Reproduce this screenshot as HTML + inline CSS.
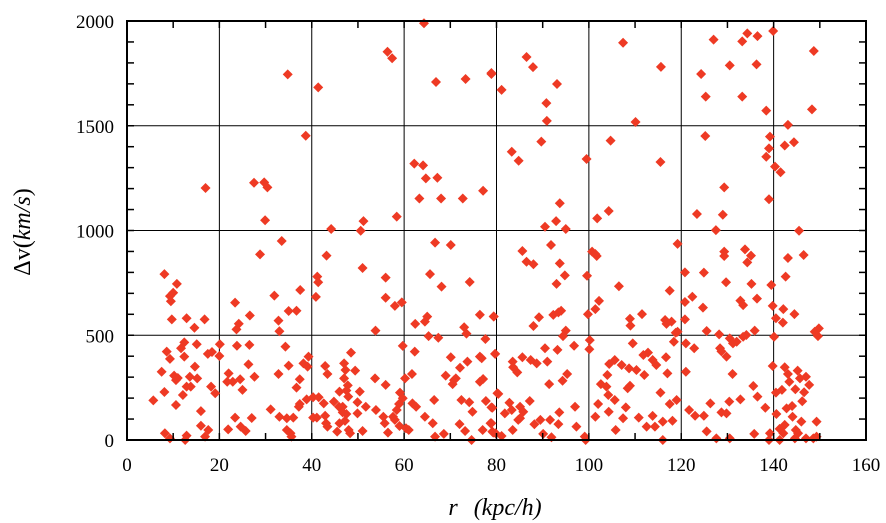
<!DOCTYPE html>
<html><head><meta charset="utf-8"><style>
html,body{margin:0;padding:0;background:#fff;}
svg{display:block;font-family:"Liberation Serif",serif;}
</style></head><body>
<svg id="chart" width="886" height="523" xmlns="http://www.w3.org/2000/svg">
<g id="grid"></g>
<g id="points"></g>
<g id="axes"></g>
<text x="495" y="515" font-size="24" text-anchor="middle" font-style="italic">r<tspan dx="16">(kpc/h)</tspan></text>
<text transform="translate(30,232) rotate(-90)" font-size="24" text-anchor="middle">Δv(<tspan font-style="italic">km/s</tspan>)</text>
</svg>
<script>
const xTicks=[0,20,40,60,80,100,120,140,160];
const yTicks=[0,500,1000,1500,2000];
const xs=[64.3,56.4,57.4,34.8,41.4,66.9,73.3,78.9,38.7,62.2,64.1,64.7,67.2,63.3,68,72.7,77.1,17,27.5,29.7,30.4,29.9,44.2,50.6,51.2,58.4,
86.5,87.9,78.9,81.1,93.1,90.8,90.9,107.4,115.6,110.1,127,134.3,136.5,139.9,133.2,124.3,130.5,136.3,125.3,133.2,138.4,148.3,148.7,143.1,139.2,139,138.4,140.3,141.5,142.4,144.4,125.2,129.3,139,123.4,129,127.5,145.5,89.7,83.3,84.8,99.5,104.7,115.5,93.7,92.9,90.5,95,101.8,104.3,
33.5,28.8,8.1,10.8,10,9.3,9.5,9.7,12.9,14.6,16.8,23.4,24.2,23.7,26.6,31.9,32.8,33,35,36.7,37.5,43.2,51,41.2,41.4,40.9,56,56,58,59.5,53.8,66.7,70.1,65.6,68.1,74.2,62.4,64.5,65,65.3,67.4,73,73.5,76.4,79.4,77.6,
8.6,9.3,12.4,11.7,15.1,12.4,20.1,20,17.5,18.4,7.5,10.2,10.6,11,14.7,13.6,15.2,12.9,13.8,12.1,18.2,19.1,8.1,5.7,10.6,16,16,17.6,16.9,8.2,9.3,12.6,12.9,
23.8,26.5,26.3,22,21.7,22.9,24.5,27.6,25,23.4,27,21.9,24.6,25.7,32.8,34.3,35,38.2,39.3,39.1,37.4,36.7,31.1,33,34.6,36,37.2,37.4,38.9,34.6,35.4,35.6,
40.3,41.5,42.6,40.3,41.1,42.9,43.1,43.4,42.9,43.4,45.5,47,47.3,48.5,49.4,47,47.8,47.5,46,47.9,50.4,49.9,51.7,44.8,45.9,46.7,46.7,47.5,47.2,46,48,48.3,49.9,51,53.7,53.9,56,55.5,55.8,56.5,59.1,58.9,59.7,58.4,57.6,58,59,60.4,61,60.2,59.7,
62.3,61.7,61.8,62.6,64.5,66.2,66.7,68.6,66.5,69,70.1,70.5,70.8,71.2,72.1,73.7,72.4,74.1,74.8,74.6,72,73.2,76.4,76.8,76.4,77.1,77.7,79.1,77,78.7,79.1,79.7,80.2,79.8,
85.6,91.8,86.5,88,93.7,94.8,93,99.6,92.3,93.4,94,89.2,88,95,94.4,79.4,99.8,100.7,101.7,101.4,106.5,102.2,101.4,111.5,108.9,109,116.5,116.8,117.9,117.5,119.2,119.2,100.2,100.1,
120.8,124.9,129.3,129.3,133.8,135.1,134.3,129.7,135.2,139.5,136.4,120.8,122.4,124.7,132.8,133.4,120.8,139.8,142.1,140.5,142,144.5,125.5,128.2,130.5,132,133.4,134.1,135.9,131.2,140.1,143.1,146.5,142.6,148.9,149.8,149.6,
79.7,83.5,83.6,84.5,85.6,87.4,88.7,91,90.5,93.2,96.8,95.3,94.3,91.4,80.4,78.9,78.9,79.3,81.1,81.8,82.8,83.3,85.1,85.8,84.7,87.2,85.1,83.5,88.2,89.5,90.1,91.6,91.9,93.4,93.6,97,97.3,99.1,99.3,
104.4,105.6,107.1,104,102.6,103.8,104.2,105.6,102,101.4,104.3,105.8,108,107.4,108.7,110.3,112,109.5,111.8,112.8,113.8,114.6,116.7,117,118.4,118.8,108.9,108.4,110.8,112.5,113.8,114.3,115.5,116,117.5,119,118.1,116,
121,122.8,121,121.7,123,124.9,126.3,125.5,128.4,128.7,129.8,131.1,128.7,129.8,130.4,132.8,135.6,136.5,138.2,135.8,139.2,139.8,127.6,130.5,139,141.3,
140.5,141.8,142.4,143.1,143.4,145.2,145.7,147,147.7,144.7,146.6,146.2,142.8,144,140.6,144.1,146,149.3,141.3,142.4,142.1,144.8,145.3,147,148.6,149.3,144.6];
const ys=[1989,1853,1822,1745,1683,1709,1723,1747,1452,1319,1311,1249,1252,1153,1153,1153,1190,1203,1228,1230,1206,1049,1007,999,1045,1066,
1828,1780,1752,1671,1699,1608,1523,1896,1781,1518,1911,1941,1928,1952,1903,1747,1788,1793,1639,1639,1572,1578,1857,1504,1448,1392,1352,1305,1278,1406,1421,1451,1206,1149,1079,1075,1002,999,1424,1376,1333,1341,1429,1327,1130,1045,1018,1007,1058,1093,
950,886,792,745,703,687,662,576,581,536,576,656,555,528,594,689,570,519,616,617,716,880,821,780,753,683,775,679,640,657,522,942,931,792,732,754,554,565,589,496,488,538,508,598,590,482,
422,387,466,438,457,398,457,401,411,420,326,307,286,296,350,302,294,255,255,215,255,223,229,189,167,138,68,48,16,32,8,0,21,
450,454,361,318,278,278,290,302,239,107,105,51,64,43,315,446,355,366,398,350,290,250,146,111,104,107,159,172,194,48,32,16,
204,204,175,107,107,116,80,64,353,315,40,366,334,417,331,294,261,236,231,207,231,180,159,183,159,159,132,124,91,80,48,32,127,43,294,143,263,111,80,35,226,172,199,143,111,96,67,56,48,294,449,
422,315,175,159,111,80,16,29,191,307,395,267,286,294,345,374,191,180,135,0,76,43,398,390,278,291,186,154,48,80,40,411,223,32,
902,931,851,839,843,786,745,784,597,609,617,586,544,522,496,589,600,899,878,888,734,664,625,601,579,546,573,554,565,713,936,517,477,433,
800,799,899,878,910,880,848,753,745,740,675,659,684,632,665,644,576,640,625,581,560,601,520,504,485,469,493,501,522,461,493,869,883,780,517,533,496,
411,374,347,323,395,382,366,374,438,430,450,315,283,267,220,156,80,35,19,127,178,143,159,135,96,186,104,48,75,96,29,96,13,76,132,159,64,16,0,
363,382,358,310,267,255,215,191,172,111,135,48,156,104,342,334,310,461,406,417,382,358,395,318,469,512,259,247,107,64,115,64,226,88,172,191,92,0,
461,438,326,143,116,116,175,41,438,423,398,315,132,127,183,194,258,207,154,29,32,353,8,8,0,0,
226,239,347,315,278,331,294,302,263,242,228,185,151,162,124,111,88,88,53,72,32,48,32,8,8,16,8];
const X0=127,X1=866,Y0=440,Y1=21;
function sx(v){return X0+(v-0)/(160-0)*(X1-X0);}
function sy(v){return Y0-(v-0)/(2000-0)*(Y0-Y1);}
const NS='http://www.w3.org/2000/svg';
function mk(tag,attrs,parent){const e=document.createElementNS(NS,tag);for(const k in attrs)e.setAttribute(k,attrs[k]);parent.appendChild(e);return e;}
const grid=document.getElementById('grid'),axes=document.getElementById('axes'),pts=document.getElementById('points');
xTicks.forEach(t=>{
  const l=mk('line',{x1:sx(t),x2:sx(t),y1:Y1,y2:Y0,stroke:'#000','stroke-width':1},grid);
  
  
  const tx=mk('text',{x:sx(t),y:Y0+31,'font-size':19,'text-anchor':'middle'},axes);
  tx.textContent=t;
  
  
});
yTicks.forEach(t=>{
  const l=mk('line',{x1:X0,x2:X1,y1:sy(t),y2:sy(t),stroke:'#000','stroke-width':1},grid);
  
  
  const tx=mk('text',{x:X0-13,y:sy(t)+7,'font-size':19,'text-anchor':'end'},axes);
  tx.textContent=t;
  
  
});
for(let v=0;v<=160;v+=10){
  mk('line',{x1:sx(v),x2:sx(v),y1:Y0,y2:Y0-7,stroke:'#000','stroke-width':1.5},axes);
  mk('line',{x1:sx(v),x2:sx(v),y1:Y1,y2:Y1+7,stroke:'#000','stroke-width':1.5},axes);
}
for(let v=0;v<=2000;v+=100){
  mk('line',{x1:X0,x2:X0+7,y1:sy(v),y2:sy(v),stroke:'#000','stroke-width':1.5},axes);
  mk('line',{x1:X1,x2:X1-7,y1:sy(v),y2:sy(v),stroke:'#000','stroke-width':1.5},axes);
}
const fr=mk('rect',{x:X0,y:Y1,width:X1-X0,height:Y0-Y1,fill:'none',stroke:'#000','stroke-width':2},axes);


for(let i=0;i<xs.length;i++){
  const cx=sx(xs[i]),cy=sy(ys[i]),r=5;
  const p=mk('polygon',{points:`${cx},${cy-r} ${cx+r},${cy} ${cx},${cy+r} ${cx-r},${cy}`,fill:'#ee3a24'},pts);
  
  
}
</script>
</body></html>
